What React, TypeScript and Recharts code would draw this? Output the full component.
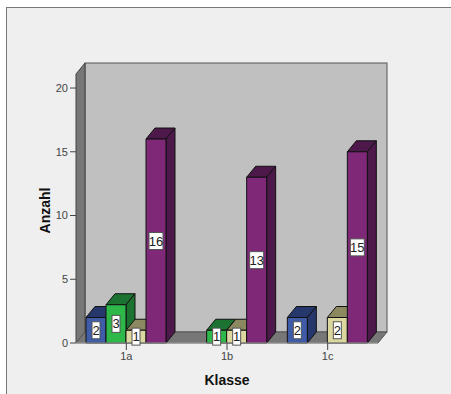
import React from "react";
import { BarChart, Bar, XAxis, YAxis, LabelList, usePlotArea } from "recharts";

const categories = ["1a", "1b", "1c"];
const seriesBlue = [2, 0, 2];
const seriesGreen = [3, 1, 0];
const seriesTan = [1, 1, 2];
const seriesPurple = [16, 13, 15];
const yTicks = [0, 5, 10, 15, 20];

const data = categories.map((klasse, i) => ({
  klasse,
  blue: seriesBlue[i] || null,
  green: seriesGreen[i] || null,
  tan: seriesTan[i] || null,
  purple: seriesPurple[i] || null,
}));

const DX = 9;
const DY = 11;

function Walls() {
  const p = usePlotArea();
  if (!p) return null;
  const { x, y, width, height } = p;
  const b = y + height;
  const r = x + width;
  return (
    <g>
      <rect x={x + DX} y={y - DY} width={width} height={height} fill="#c0c0c0" stroke="#555" strokeWidth={1} />
      <polygon points={`${x},${y} ${x + DX},${y - DY} ${x + DX},${b - DY} ${x},${b}`} fill="#777" stroke="#444" strokeWidth={1} />
      <polygon points={`${x},${b} ${x + DX},${b - DY} ${r + DX},${b - DY} ${r},${b}`} fill="#777" stroke="#555" strokeWidth={1} />
    </g>
  );
}

function Box3D(props: any) {
  const { x, y, width, height, fill, topFill, sideFill } = props;
  if (!height) return null;
  const s = "#111";
  return (
    <g stroke={s} strokeWidth={1} strokeLinejoin="round">
      <polygon points={`${x},${y} ${x + DX},${y - DY} ${x + width + DX},${y - DY} ${x + width},${y}`} fill={topFill} />
      <polygon points={`${x + width},${y} ${x + width + DX},${y - DY} ${x + width + DX},${y + height - DY} ${x + width},${y + height}`} fill={sideFill} />
      <rect x={x} y={y} width={width} height={height} fill={fill} />
    </g>
  );
}

function ValueTag(props: any) {
  const { x, y, width, height, value } = props;
  if (!value) return null;
  const text = String(value);
  const w = text.length > 1 ? 14 : 8;
  const cx = x + width / 2;
  const cy = y + height / 2;
  return (
    <g>
      <rect x={cx - w / 2} y={cy - 8.5} width={w} height={17} fill="#fff" stroke="#555" strokeWidth={1} />
      <text x={cx} y={cy + 4.5} textAnchor="middle" fontSize={13} fill="#222" fontFamily="Liberation Sans">
        {text}
      </text>
    </g>
  );
}

function YTitle(props: any) {
  const { viewBox } = props;
  const cy = viewBox.y + viewBox.height / 2 + 2;
  const cx = viewBox.x + 50;
  return (
    <text x={cx} y={cy} transform={`rotate(-90 ${cx} ${cy})`} textAnchor="middle" fontSize={14} fontWeight="bold" fill="#111">
      Anzahl
    </text>
  );
}

const seriesStyle = [
  { key: "blue", fill: "#3f5ca8", topFill: "#26376b", sideFill: "#26376b" },
  { key: "green", fill: "#2fb84a", topFill: "#1c7230", sideFill: "#1c7230" },
  { key: "tan", fill: "#dcd79e", topFill: "#8c8860", sideFill: "#8c8860" },
  { key: "purple", fill: "#7f2878", topFill: "#4d194a", sideFill: "#4d194a" },
];

export default function App() {
  return (
    <div style={{ position: "absolute", left: 0, top: 0, width: 451, height: 394, background: "#fff", overflow: "hidden" }}>
      <div style={{ position: "absolute", left: 6, top: 7, width: 445, height: 387, background: "#efefef", borderLeft: "1px solid #777", borderTop: "1px solid #777", boxSizing: "border-box" }} />
      <BarChart
        width={451}
        height={394}
        data={data}
        barGap={0}
        barCategoryGap={10}
        margin={{ top: 74, left: 0, right: 73, bottom: 0 }}
        style={{ position: "absolute", left: 0, top: 0, fontFamily: "Liberation Sans" }}
      >
        <Walls />
        <XAxis
          dataKey="klasse"
          tick={{ fontSize: 11, fill: "#444" }}
          tickSize={7}
          tickLine={{ stroke: "#444" }}
          axisLine={{ stroke: "#aaa" }}
          height={51}
          label={{ value: "Klasse", position: "insideBottom", offset: 9, fontSize: 14, fontWeight: "bold", fill: "#111" }}
        />
        <YAxis
          domain={[0, 21.1]}
          ticks={yTicks}
          tick={{ fontSize: 11, fill: "#444" }}
          tickSize={6}
          tickLine={{ stroke: "#444" }}
          axisLine={false}
          width={76}
          label={<YTitle />}
        />
        {seriesStyle.map((s) => (
          <Bar
            key={s.key}
            dataKey={s.key}
            fill={s.fill}
            isAnimationActive={false}
            shape={(p: any) => <Box3D {...p} fill={s.fill} topFill={s.topFill} sideFill={s.sideFill} />}
          >
            <LabelList dataKey={s.key} content={(p: any) => <ValueTag {...p} />} />
          </Bar>
        ))}
      </BarChart>
    </div>
  );
}
